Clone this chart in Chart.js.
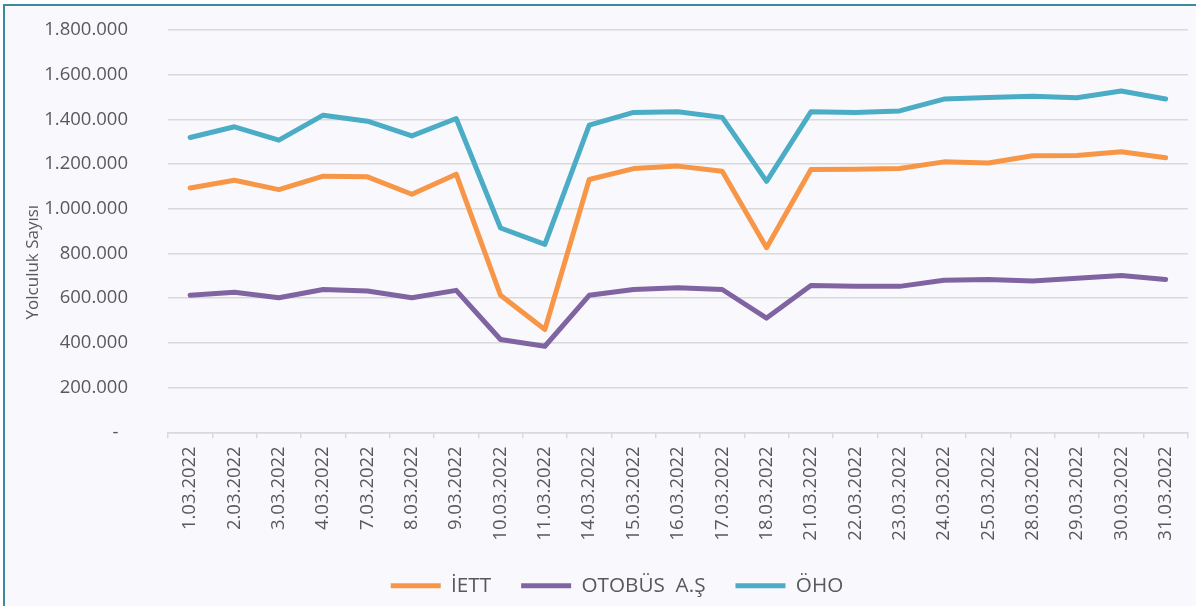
<!DOCTYPE html>
<html>
<head>
<meta charset="utf-8">
<script src="https://cdn.jsdelivr.net/npm/chart.js@4"></script>
<style>
  html, body { margin: 0; padding: 0; background: #ffffff; }
  #wrap { position: relative; width: 1196px; height: 606px; overflow: hidden; }
  #frame { position: absolute; left: 3px; top: 4px; right: 0; bottom: 0;
           border-left: 2px solid #3b8aa0; border-top: 2px solid #3b8aa0; background: #f9f9fd; }
  #c { position: absolute; left: 0; top: 0; }
</style>
</head>
<body>
<div id="wrap">
  <div id="frame"></div>
  <canvas id="c" width="1196" height="606"></canvas>
</div>
<script>
const categories = ['1.03.2022','2.03.2022','3.03.2022','4.03.2022','7.03.2022','8.03.2022','9.03.2022','10.03.2022','11.03.2022','14.03.2022','15.03.2022','16.03.2022','17.03.2022','18.03.2022','21.03.2022','22.03.2022','23.03.2022','24.03.2022','25.03.2022','28.03.2022','29.03.2022','30.03.2022','31.03.2022'];
const iettValues = [1093000,1128000,1086000,1146000,1143000,1065000,1155000,613000,460000,1131000,1180000,1191000,1168000,826000,1176000,1177000,1180000,1210000,1205000,1237000,1239000,1255000,1228000];
const otobusValues = [613000,627000,602000,639000,632000,602000,635000,415000,385000,613000,639000,647000,639000,511000,657000,653000,653000,680000,684000,677000,689000,702000,684000];
const ohoValues = [1319000,1367000,1307000,1419000,1392000,1326000,1404000,914000,841000,1374000,1431000,1434000,1409000,1123000,1434000,1431000,1438000,1491000,1498000,1504000,1497000,1527000,1491000];
const seriesNames = ['İETT', 'OTOBÜS  A.Ş', 'ÖHO'];
const yTickValues = [0,200000,400000,600000,800000,1000000,1200000,1400000,1600000,1800000];
const yTitle = 'Yolculuk Sayısı';

const FONT = "'Open Sans', sans-serif";
const TXT = '#595959';

function fmt(v) {
  if (v === 0) return '-\u00a0\u00a0';
  return String(v).replace(/\B(?=(\d{3})+(?!\d))/g, '.');
}

const yTitlePlugin = {
  id: 'yTitle',
  afterDraw(chart) {
    const ctx = chart.ctx;
    const a = chart.chartArea;
    ctx.save();
    ctx.font = "17px " + FONT;
    ctx.fillStyle = TXT;
    ctx.textAlign = 'center';
    ctx.textBaseline = 'middle';
    ctx.translate(33, (a.top + a.bottom) / 2 + 31);
    ctx.rotate(-Math.PI / 2);
    ctx.fillText(yTitle, 0, 0);
    ctx.restore();
  }
};

function ds(label, data, color) {
  return {
    label, data,
    borderColor: color, backgroundColor: color,
    borderWidth: 5, pointRadius: 0, pointHoverRadius: 0,
    tension: 0, borderJoinStyle: 'round', borderCapStyle: 'round', fill: false
  };
}

new Chart(document.getElementById('c'), {
  type: 'line',
  data: {
    labels: categories,
    datasets: [
      ds(seriesNames[0], iettValues, '#f79646'),
      ds(seriesNames[1], otobusValues, '#8064a2'),
      ds(seriesNames[2], ohoValues, '#4bacc6')
    ]
  },
  options: {
    responsive: false,
    devicePixelRatio: 1,
    animation: false,
    layout: { padding: { top: 30, left: 46, right: 8, bottom: 0 } },
    plugins: {
      tooltip: { enabled: false },
      legend: {
        position: 'bottom',
        labels: {
          usePointStyle: true,
          pointStyle: 'line',
          pointStyleWidth: 50,
          boxHeight: 18,
          padding: 30,
          color: TXT,
          font: { family: FONT, size: 20.7 }
        }
      }
    },
    scales: {
      x: {
        type: 'category',
        offset: true,
        afterFit(s) { s.height = 113; },
        grid: { offset: true, drawOnChartArea: false, drawTicks: true, tickLength: 6, color: '#d9d9d9', lineWidth: 1.5 },
        border: { display: true, color: '#d9d9d9', width: 1.5 },
        ticks: { autoSkip: false, maxRotation: 90, minRotation: 90, padding: 8, color: TXT, font: { family: FONT, size: 18.5 } }
      },
      y: {
        min: 0, max: 1800000,
        afterFit(s) { s.width = 122; },
        afterBuildTicks(s) { s.ticks = yTickValues.map(v => ({ value: v })); },
        grid: { color: '#d9d9d9', lineWidth: 1.5, drawTicks: true, tickLength: 40, tickColor: 'rgba(0,0,0,0)' },
        border: { display: false },
        ticks: { padding: 0, color: TXT, font: { family: FONT, size: 18.5 }, callback: (v) => fmt(v) }
      }
    }
  },
  plugins: [yTitlePlugin]
});
</script>
</body>
</html>
